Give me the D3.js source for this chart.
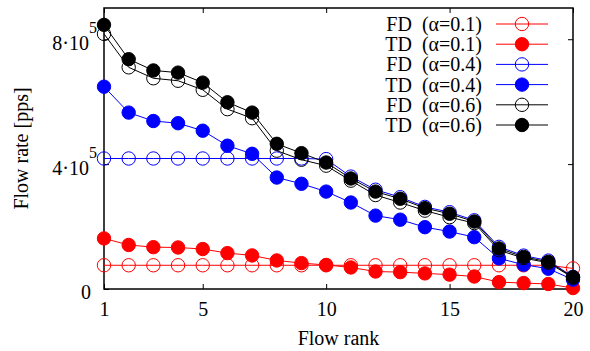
<!DOCTYPE html>
<html>
<head>
<meta charset="utf-8">
<script src="https://cdn.jsdelivr.net/npm/d3@7"></script>
<style>
  body { margin: 0; background: #fff; }
  svg, svg text, svg tspan { font-family: 'Liberation Serif', serif !important; }
  .legend text { white-space: pre; }
</style>
</head>
<body>
<div id="chart"></div>
<script>
// Data (flow rate in pps)
let ranks = [1, 2, 3, 4, 5, 6, 7, 8, 9, 10, 11, 12, 13, 14, 15, 16, 17, 18, 19, 20]

let fd01 = [76000, 76000, 76000, 76000, 76000, 76000, 76000, 76000, 76000, 76000,
  76000, 76000, 76000, 76000, 76000, 76000, 76000, 76000, 76000, 66000]
let td01 = [162000, 141000, 134000, 133000, 128000, 115000, 107500, 91500, 83000, 77000,
  69000, 56000, 54000, 50000, 46000, 40000, 22000, 19000, 16000, 3000]
let fd04 = [418000, 418000, 418000, 418000, 418000, 418000, 418000, 418000, 418000, 416000,
  360000, 318000, 294000, 263000, 246000, 220000, 135000, 107000, 91000, 39000]
let td04 = [648000, 565000, 538000, 531000, 507000, 459000, 433000, 357000, 337000, 312000,
  277000, 235000, 222000, 198000, 184000, 166000, 98000, 78000, 65000, 30000]
let fd06 = [817000, 710000, 675000, 667000, 638000, 576000, 547000, 443000, 414000, 395000,
  347000, 301000, 277000, 251000, 230000, 211000, 124000, 99000, 84000, 36000]
let td06 = [846000, 736000, 700000, 693000, 661000, 598000, 565000, 465000, 435000, 405000,
  354000, 312000, 289000, 259000, 241000, 216000, 130000, 103000, 87000, 38000]

let seriesNames = ['FD  (\u03b1=0.1)', 'TD  (\u03b1=0.1)', 'FD  (\u03b1=0.4)',
  'TD  (\u03b1=0.4)', 'FD  (\u03b1=0.6)', 'TD  (\u03b1=0.6)']
let seriesColors = ['#ff0000', '#ff0000', '#0000ff', '#0000ff', '#000000', '#000000']
let seriesFilled = [false, true, false, true, false, true]
let seriesValues = [fd01, td01, fd04, td04, fd06, td06]

let xTicks = [1, 5, 10, 15, 20]
let yTicks = [0, 400000, 800000]
let yTickMant = ['0', '4\u00b710', '8\u00b710']

let margin = { top: 8, left: 104, right: 17, bottom: 62 }
let width = 590 - margin.left - margin.right
let height = 351 - margin.top - margin.bottom

let svg = d3.select('#chart')
  .append('svg')
  .attr('width', 590)
  .attr('height', 351)
  .append('g')
  .attr('transform', `translate(${margin.left},${margin.top})`)

let xPositionScale = d3.scaleLinear().domain([1, 20]).range([0, width])
let yPositionScale = d3.scaleLinear().domain([0, 900000]).range([height, 0])

// frame
svg.append('rect')
  .attr('width', width)
  .attr('height', height)
  .attr('fill', 'none')
  .attr('stroke', '#000')
  .attr('stroke-width', 1.5)

// axes, ticks pointing inward
let xAxis = d3.axisBottom(xPositionScale).tickValues(xTicks)
  .tickSizeInner(-5).tickSizeOuter(0).tickPadding(13)
svg.append('g')
  .attr('class', 'axis x-axis')
  .attr('transform', `translate(0,${height})`)
  .call(xAxis)

svg.append('g')
  .attr('class', 'axis')
  .call(d3.axisTop(xPositionScale).tickValues(xTicks)
    .tickSizeInner(-5).tickSizeOuter(0).tickFormat(''))

let yAxis = d3.axisLeft(yPositionScale).tickValues(yTicks)
  .tickSizeInner(-5).tickSizeOuter(0).tickPadding(7)
  .tickFormat('')
svg.append('g')
  .attr('class', 'axis y-axis')
  .call(yAxis)

svg.append('g')
  .attr('class', 'axis')
  .attr('transform', `translate(${width},0)`)
  .call(d3.axisRight(yPositionScale).tickValues(yTicks)
    .tickSizeInner(-5).tickSizeOuter(0).tickFormat(''))

svg.selectAll('.axis')
  .attr('font-family', 'Liberation Serif')
  .attr('font-size', 20)
svg.selectAll('.axis .domain').remove()
svg.selectAll('.axis line').attr('stroke', '#000').attr('stroke-width', 1)
svg.selectAll('.axis text').attr('fill', '#000')

// y tick labels: mantissa plus raised exponent as a separate text
svg.select('.y-axis').selectAll('.tick')
  .each(function(d, i) {
    let tick = d3.select(this)
    tick.select('text').remove()
    if (d === 0) {
      tick.append('text')
        .attr('x', -13)
        .attr('dy', '0.45em')
        .attr('text-anchor', 'end')
        .attr('fill', '#000')
        .text(yTickMant[i])
    } else {
      tick.append('text')
        .attr('x', -15)
        .attr('dy', '0.5em')
        .attr('text-anchor', 'end')
        .attr('fill', '#000')
        .text(yTickMant[i])
      tick.append('text')
        .attr('x', -7)
        .attr('y', -7)
        .attr('font-size', 16)
        .attr('text-anchor', 'end')
        .attr('fill', '#000')
        .text('5')
    }
  })

// axis titles
svg.append('text')
  .text('Flow rank')
  .attr('font-size', 20)
  .attr('text-anchor', 'middle')
  .attr('x', width / 2)
  .attr('y', height + 56)

svg.append('text')
  .text('Flow rate [pps]')
  .attr('font-size', 20)
  .attr('text-anchor', 'middle')
  .attr('transform', `translate(${28 - margin.left},${height / 2}) rotate(-90)`)

let line = d3.line()
  .x((d, i) => xPositionScale(ranks[i]))
  .y(d => yPositionScale(d))

seriesValues.forEach(function(values, s) {
  let g = svg.append('g')
  g.append('path')
    .datum(values)
    .attr('d', line)
    .attr('fill', 'none')
    .attr('stroke', seriesColors[s])
    .attr('stroke-width', 1)
  g.selectAll('circle')
    .data(values)
    .enter()
    .append('circle')
    .attr('cx', (d, i) => xPositionScale(ranks[i]))
    .attr('cy', d => yPositionScale(d))
    .attr('r', 6.7)
    .attr('fill', seriesFilled[s] ? seriesColors[s] : 'none')
    .attr('stroke', seriesColors[s])
    .attr('stroke-width', 1)
})

// legend
let legend = svg.append('g')
  .attr('class', 'legend')
  .attr('transform', 'translate(0,16)')

seriesNames.forEach(function(name, s) {
  let row = legend.append('g')
    .attr('transform', `translate(0,${s * 20.2})`)
  row.append('text')
    .text(name)
    .attr('font-size', 20)
    .attr('text-anchor', 'end')
    .attr('x', 378)
    .attr('dy', '0.35em')
  row.append('line')
    .attr('x1', 392)
    .attr('x2', 444)
    .attr('stroke', seriesColors[s])
    .attr('stroke-width', 1)
  row.append('circle')
    .attr('cx', 418)
    .attr('r', 6.7)
    .attr('fill', seriesFilled[s] ? seriesColors[s] : 'none')
    .attr('stroke', seriesColors[s])
    .attr('stroke-width', 1)
})
</script>
</body>
</html>
